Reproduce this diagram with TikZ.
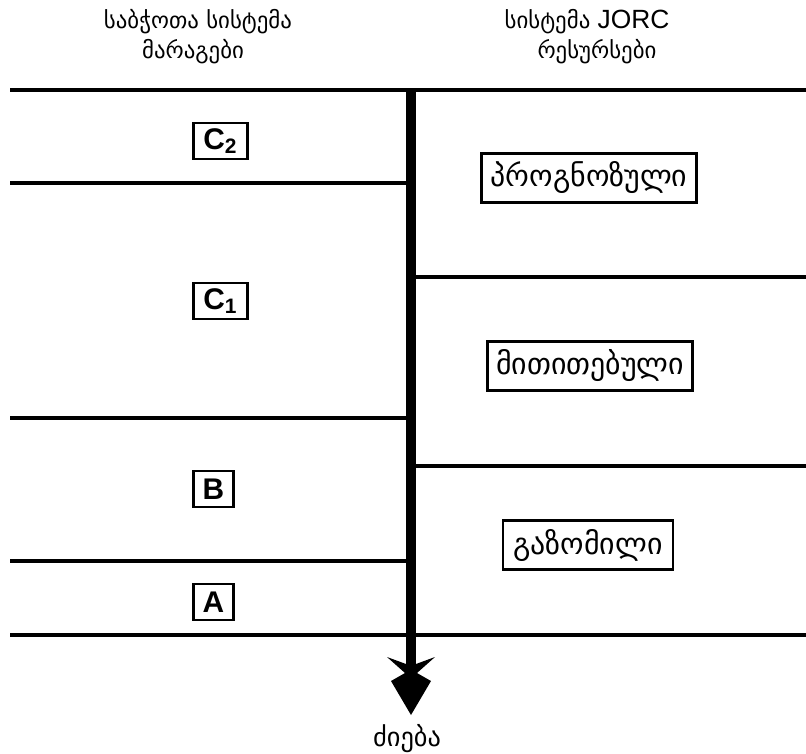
\documentclass[tikz,border=0pt]{standalone}
\usepackage{fontspec}
\setmainfont{Liberation Sans}
\newfontfamily\geofont{DejaVu Sans}
\usetikzlibrary{calc}

\begin{document}
\begin{tikzpicture}[x=0.02cm, y=-0.02cm,
		rule/.style={line width=2.3pt},
		classbox/.style={draw, line width=1.6pt, inner sep=0pt, minimum height=0.72cm, anchor=west, font=\bfseries\fontsize{17}{19}\selectfont},
		resbox/.style={draw, line width=1.6pt, inner sep=0pt, minimum height=0.98cm, font=\geofont\fontsize{17}{20}\selectfont},
		headtext/.style={font=\geofont\fontsize{13}{15}\selectfont}]
			%%%%% START %%%%%
			
			\useasboundingbox (0,0) rectangle (806,754);
			
			\node[headtext] (headleft) at (198,22) {საბჭოთა სისტემა};
			\node[headtext] (headleftb) at (193,52) {მარაგები};
			\node[headtext] (headright) at (587,22) {სისტემა {\rmfamily\fontsize{15}{17}\selectfont JORC}};
			\node[headtext] (headrightb) at (597,52) {რესურსები};
			
			\draw[rule] (10,90) -- (806,90);
			\draw[rule] (10,635) -- (806,635);
			
			\draw[rule] (10,183) -- (406,183);
			\draw[rule] (10,418) -- (406,418);
			\draw[rule] (10,561) -- (406,561);
			
			\draw[rule] (416,277) -- (806,277);
			\draw[rule] (416,466) -- (806,466);
			
			\node[classbox, minimum width=1.08cm] (ctwo) at (192,141) {C\textsubscript{2}};
			\node[classbox, minimum width=1.08cm] (cone) at (192,301) {C\textsubscript{1}};
			\node[classbox, minimum width=0.8cm] (clb) at (192,489) {B};
			\node[classbox, minimum width=0.8cm] (cla) at (192,602) {A};
			
			\node[resbox, minimum width=4.3cm] (progbox) at (589,178) {პროგნოზული};
			\node[resbox, minimum width=4.1cm] (indbox) at (590,366) {მითითებული};
			\node[resbox, minimum width=3.4cm] (measbox) at (588,545) {გაზომილი};
			
			\coordinate (shafttop) at (411,88);
			\coordinate (tip) at (411,715);
			\node[headtext, font=\geofont\fontsize{15}{17}\selectfont] (search) at (407,739) {ძიება};
			
			\draw[line width=5.7pt] (shafttop) -- ($(tip)+(0,-50)$);
			\fill ($(tip)+(-5,-51)$) -- ($(tip)+(-24,-58)$) -- ($(tip)+(-6,-42)$) -- ($(tip)+(-20,-34)$)
				-- (tip) -- ($(tip)+(20,-34)$) -- ($(tip)+(6,-42)$) -- ($(tip)+(24,-58)$) -- ($(tip)+(5,-51)$) -- cycle;
			
			%%%%% END %%%%%
		\end{tikzpicture}
\end{document}
